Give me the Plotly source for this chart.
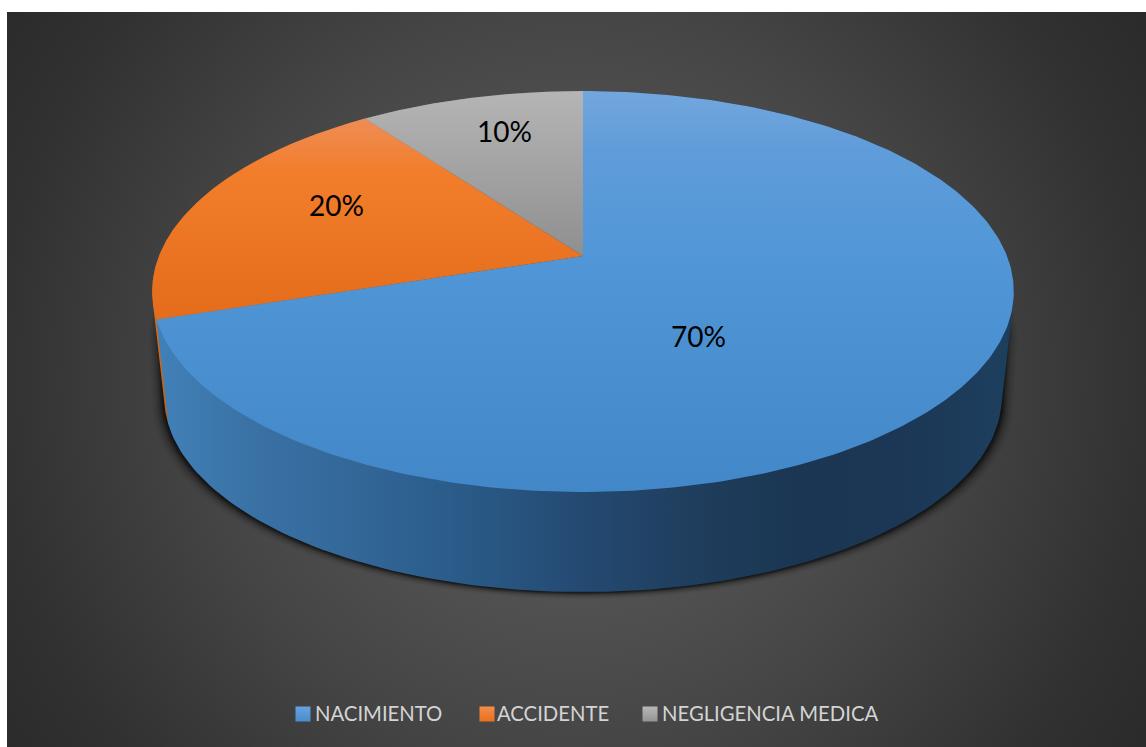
import numpy as np
import plotly.graph_objects as go

CATEGORIES = ["NACIMIENTO", "ACCIDENTE", "NEGLIGENCIA MEDICA"]
VALUES = [70, 20, 10]

# drawing geometry of the tilted disc (pixel-valued axes)
CX, APEX_Y, KX, KY, PERSP = 583.0, 256.0, 424.0, 194.2, 0.177
BASE_SCALE, BASE_Y = 0.972, 362.6
LABEL_XY = [(698, 336), (336, 205), (504, 131)]
SWATCH_X = [303, 487, 650]
LEGEND_TEXT_X = [315, 497, 662]
LEGEND_Y = 713

TOP_STOPS = [
    [(91, "#72a7dd"), (150, "#609cda"), (256, "#5197d7"), (492, "#4287c7")],
    [(118, "#ee8d58"), (170, "#f27e2c"), (319, "#e46c1b")],
    [(91, "#b5b5b5"), (256, "#8f8f8f")],
]
WALL_STOPS = [
    [(156, "#4181b8"), (250, "#3a72a6"), (350, "#336899"), (450, "#2b5c8a"), (580, "#244a72"),
     (700, "#1f3d5c"), (800, "#1a3652"), (900, "#1b3755"), (1006, "#1d3f5e")],
    [(152, "#d8701f"), (170, "#b95f1a")],
    [(365, "#777777"), (583, "#666666")],
]
BG_SCALE = [[0, "#5a5a5a"], [0.3, "#525252"], [0.54, "#454545"], [0.84, "#313131"], [1, "#2a2a2a"]]
BG_RADIUS = 690
BG_CX, BG_CY = 572, 380


def project(frac, radius=1.0, scale=1.0, y0=APEX_Y):
    """Clockwise fraction of the circle from 12 o'clock -> screen position."""
    a = 2 * np.pi * np.asarray(frac)
    u, v = radius * np.sin(a), radius * np.cos(a)
    d = 1 + PERSP * v
    return CX + scale * KX * u / d, y0 - scale * KY * v / d


def scale_from(stops):
    lo, hi = stops[0][0], stops[-1][0]
    return lo, hi, [[(p - lo) / (hi - lo), c] for p, c in stops]


def hull(xs, ys):
    """Convex outline (closed) of a set of points."""
    pts = sorted(set(zip(np.round(xs, 3).tolist(), np.round(ys, 3).tolist())))

    def half(seq):
        out = []
        for p in seq:
            while len(out) > 1 and ((out[-1][0] - out[-2][0]) * (p[1] - out[-2][1])
                                    - (out[-1][1] - out[-2][1]) * (p[0] - out[-2][0])) <= 0:
                out.pop()
            out.append(p)
        return out[:-1]

    ring = half(pts) + half(pts[::-1])
    ring.append(ring[0])
    return [p[0] for p in ring], [p[1] for p in ring]


fig = go.Figure()

# background
fig.add_trace(go.Scatter(
    x=[BG_CX - BG_RADIUS, BG_CX + BG_RADIUS, BG_CX + BG_RADIUS, BG_CX - BG_RADIUS, BG_CX - BG_RADIUS],
    y=[BG_CY - BG_RADIUS, BG_CY - BG_RADIUS, BG_CY + BG_RADIUS, BG_CY + BG_RADIUS, BG_CY - BG_RADIUS],
    mode="lines", line=dict(width=0), fill="toself", hoverinfo="skip", showlegend=False,
    fillgradient=dict(type="radial", colorscale=BG_SCALE),
))

fr = np.cumsum([0] + VALUES) / sum(VALUES)

# soft shadow under the base
t = np.linspace(0, 1, 361)
bx0, by0 = project(t, scale=BASE_SCALE, y0=BASE_Y)
rx0, ry0 = project(t, scale=0.98, y0=APEX_Y + 40)
for d, alpha in zip([12, 10, 8, 6.5, 5, 4, 3, 2, 1], [.04, .05, .07, .09, .11, .14, .16, .18, .2]):
    sx, sy = hull(np.r_[CX + (bx0 - CX) * (1 + d / 421), CX + (rx0 - CX) * (1 + d / 421)],
                  np.r_[by0 + d * 0.6, ry0 + d * 0.6])
    fig.add_trace(go.Scatter(
        x=sx, y=sy, mode="lines", line=dict(width=0),
        fill="toself", fillcolor=f"rgba(0,0,0,{alpha})", hoverinfo="skip", showlegend=False))

# side walls (back to front: grey, orange, blue)
for i in [2, 1, 0]:
    tt = np.linspace(fr[i], fr[i + 1], 200)
    x1, y1 = project(tt)
    x2, y2 = project(tt, scale=BASE_SCALE, y0=BASE_Y)
    hx, hy = hull(np.r_[x1, x2], np.r_[y1, y2])
    lo, hi, cs = scale_from(WALL_STOPS[i])
    fig.add_trace(go.Scatter(
        x=hx, y=hy, mode="lines", line=dict(width=0),
        fill="toself", hoverinfo="skip", showlegend=False,
        fillgradient=dict(type="horizontal", start=lo, stop=hi, colorscale=cs)))

# top faces
for i, name in enumerate(CATEGORIES):
    tt = np.linspace(fr[i], fr[i + 1], 300)
    x1, y1 = project(tt)
    lo, hi, cs = scale_from(TOP_STOPS[i])
    fig.add_trace(go.Scatter(
        x=np.r_[CX, x1, CX], y=np.r_[APEX_Y, y1, APEX_Y], mode="lines", line=dict(width=0),
        fill="toself", name=name, showlegend=False,
        hovertemplate=f"{name}: {VALUES[i]}%<extra></extra>",
        fillgradient=dict(type="vertical", start=lo, stop=hi, colorscale=cs)))

# legend swatches
SWATCH_COLORS = [("#66a3e0", "#4a8cca"), ("#f58d4a", "#ea6f1c"), ("#b8b8b8", "#939393")]
for sx, (c1, c2), name in zip(SWATCH_X, SWATCH_COLORS, CATEGORIES):
    fig.add_trace(go.Scatter(
        x=[sx], y=[LEGEND_Y + 1], mode="markers", hoverinfo="skip", showlegend=False,
        marker=dict(symbol="square", size=15, color=c1, line=dict(width=0),
                    gradient=dict(type="vertical", color=c2))))

annotations = []
for (lx, ly), v in zip(LABEL_XY, VALUES):
    annotations.append(dict(x=lx, y=ly, text=f"{v}%", showarrow=False, xref="x", yref="y",
                            font=dict(family="Lato", size=28, color="#000000")))
for tx, name in zip(LEGEND_TEXT_X, CATEGORIES):
    annotations.append(dict(x=tx, y=LEGEND_Y, text=name, showarrow=False, xref="x", yref="y",
                            xanchor="left", xshift=-2,
                            font=dict(family="Lato", size=20.3, color="#d4d4d4")))

fig.update_layout(
    width=1146, height=747, margin=dict(l=7, r=0, t=12, b=0),
    paper_bgcolor="#ffffff", plot_bgcolor="#333333", showlegend=False,
    xaxis=dict(range=[7, 1146], visible=False, fixedrange=True),
    yaxis=dict(range=[747, 12], visible=False, fixedrange=True),
    annotations=annotations,
)
fig.write_html("out.html", config={"displayModeBar": False},
               post_script="document.body.style.margin='0';document.documentElement.style.overflow='hidden';")
